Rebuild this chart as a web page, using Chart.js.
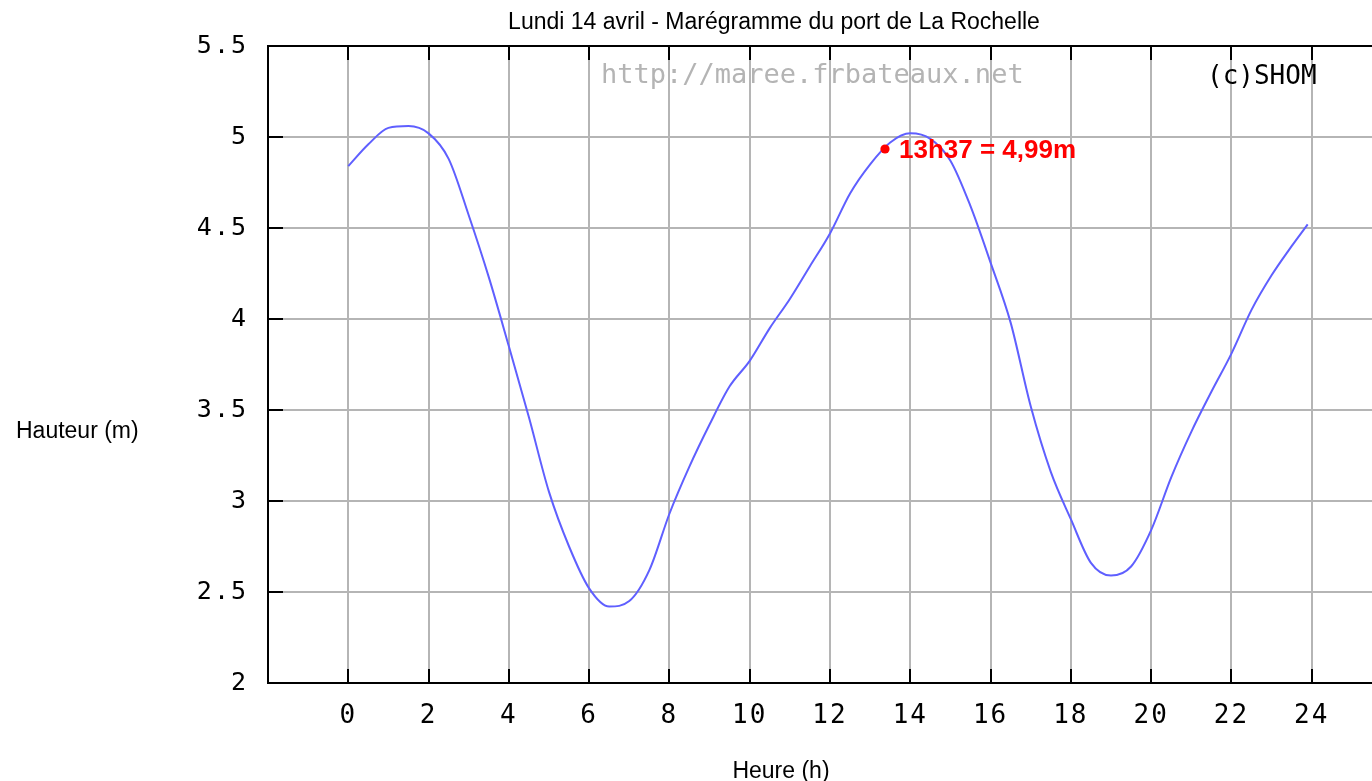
<!DOCTYPE html>
<html>
<head>
<meta charset="utf-8">
<script src="https://cdn.jsdelivr.net/npm/chart.js@4/dist/chart.umd.min.js"></script>
<style>
  html, body { margin: 0; padding: 0; background: #fff; overflow: hidden; }
  #wrap { position: absolute; left: 0; top: 0; width: 1400px; height: 781px; }
</style>
</head>
<body>
<div id="wrap"><canvas id="c" width="1400" height="781"></canvas></div>
<script>
// ---- Data ----
const hours = [0, 0.5, 1, 1.5, 2, 2.5, 3, 3.5, 4, 4.5, 5, 5.5, 6, 6.5, 7, 7.5, 8, 8.5, 9, 9.5, 10, 10.5, 11, 11.5, 12, 12.5, 13, 13.5, 14, 14.5, 15, 15.5, 16, 16.5, 17, 17.5, 18, 18.5, 19, 19.5, 20, 20.5, 21, 21.5, 22, 22.5, 23, 23.5, 23.9];
const heights = [4.84, 4.96, 5.05, 5.06, 5.02, 4.88, 4.57, 4.23, 3.85, 3.46, 3.05, 2.75, 2.52, 2.42, 2.45, 2.62, 2.93, 3.19, 3.42, 3.63, 3.77, 3.95, 4.11, 4.29, 4.47, 4.69, 4.85, 4.97, 5.02, 4.99, 4.87, 4.62, 4.31, 3.98, 3.52, 3.16, 2.90, 2.66, 2.59, 2.64, 2.84, 3.13, 3.38, 3.60, 3.81, 4.05, 4.24, 4.40, 4.52];
const xTickValues = [0, 2, 4, 6, 8, 10, 12, 14, 16, 18, 20, 22, 24];
const yTickLabels = ['2', '2.5', '3', '3.5', '4', '4.5', '5', '5.5'];
const titleText = 'Lundi 14 avril - Marégramme du port de La Rochelle';
const yAxisLabel = 'Hauteur (m)';
const xAxisLabel = 'Heure (h)';
const watermarkText = 'http://maree.frbateaux.net';
const copyrightText = '(c)SHOM';
const annotationText = '13h37 = 4,99m';

const monoFont = '"DejaVu Sans Mono", "Liberation Mono", monospace';
const sansFont = '"Liberation Sans", Arial, Helvetica, sans-serif';

const decorPlugin = {
  id: 'decor',
  beforeDraw(chart) {
    chart.ctx.letterSpacing = '2px';
  },
  afterDraw(chart) {
    const ctx = chart.ctx;
    ctx.letterSpacing = '0px';
    const a = chart.chartArea;
    const xs = chart.scales.x, ys = chart.scales.y;
    ctx.save();
    // top border
    ctx.strokeStyle = '#000';
    ctx.lineWidth = 2;
    ctx.beginPath();
    ctx.moveTo(a.left - 1, a.top);
    ctx.lineTo(a.right, a.top);
    ctx.stroke();
    // inward tick marks
    ctx.beginPath();
    xTickValues.forEach(v => {
      const px = Math.round(xs.getPixelForValue(v));
      ctx.moveTo(px, a.top); ctx.lineTo(px, a.top + 14);
      ctx.moveTo(px, a.bottom); ctx.lineTo(px, a.bottom - 14);
    });
    ys.ticks.forEach(t => {
      const py = Math.round(ys.getPixelForValue(t.value));
      ctx.moveTo(a.left, py); ctx.lineTo(a.left + 15, py);
    });
    ctx.stroke();
    // watermark and copyright
    ctx.textBaseline = 'middle';
    ctx.textAlign = 'left';
    ctx.font = '27px ' + monoFont;
    ctx.fillStyle = '#b4b4b4';
    ctx.fillText(watermarkText, 601, 76);
    ctx.font = '26px ' + monoFont;
    ctx.fillStyle = '#000';
    ctx.fillText(copyrightText, 1207, 77);
    // annotation
    ctx.fillStyle = '#ff0000';
    ctx.beginPath();
    ctx.arc(885, 149, 4.6, 0, Math.PI * 2);
    ctx.fill();
    ctx.textBaseline = 'alphabetic';
    ctx.font = 'bold 26px ' + sansFont;
    ctx.fillText(annotationText, 899, 158);
    // titles
    ctx.font = '23px ' + sansFont;
    ctx.fillStyle = '#000';
    ctx.textAlign = 'center';
    ctx.fillText(titleText, 774, 29);
    ctx.fillText(xAxisLabel, 781, 778);
    ctx.textAlign = 'left';
    ctx.fillText(yAxisLabel, 16, 438);
    ctx.restore();
  }
};

new Chart(document.getElementById('c'), {
  type: 'line',
  data: {
    datasets: [{
      data: hours.map((h, i) => ({ x: h, y: heights[i] })),
      borderColor: 'rgb(95,95,255)',
      borderWidth: 2,
      pointRadius: 0,
      fill: false,
      cubicInterpolationMode: 'monotone'
    }]
  },
  options: {
    responsive: false,
    animation: false,
    devicePixelRatio: 1,
    layout: { padding: { left: 0, right: 8, top: 46, bottom: 0 } },
    plugins: { legend: { display: false }, tooltip: { enabled: false }, title: { display: false } },
    scales: {
      x: {
        type: 'linear',
        min: -2,
        max: 26,
        afterBuildTicks: s => { s.ticks = xTickValues.map(v => ({ value: v })); },
        afterFit: s => { s.height = 98; },
        grid: { color: '#b5b5b5', lineWidth: 2, drawTicks: false },
        border: { display: true, color: '#000', width: 2 },
        ticks: { color: '#000', font: { family: monoFont, size: 26 }, padding: 18, maxRotation: 0, autoSkip: false }
      },
      y: {
        min: 2,
        max: 5.5,
        afterBuildTicks: s => { s.ticks = yTickLabels.map(v => ({ value: parseFloat(v) })); },
        afterFit: s => { s.width = 268; },
        grid: { color: '#b5b5b5', lineWidth: 2, drawTicks: false },
        border: { display: true, color: '#000', width: 2 },
        ticks: {
          color: '#000',
          font: { family: monoFont, size: 25 },
          padding: 20,
          callback: (v) => yTickLabels.find(l => parseFloat(l) === v) || ''
        }
      }
    }
  },
  plugins: [decorPlugin]
});
</script>
</body>
</html>
